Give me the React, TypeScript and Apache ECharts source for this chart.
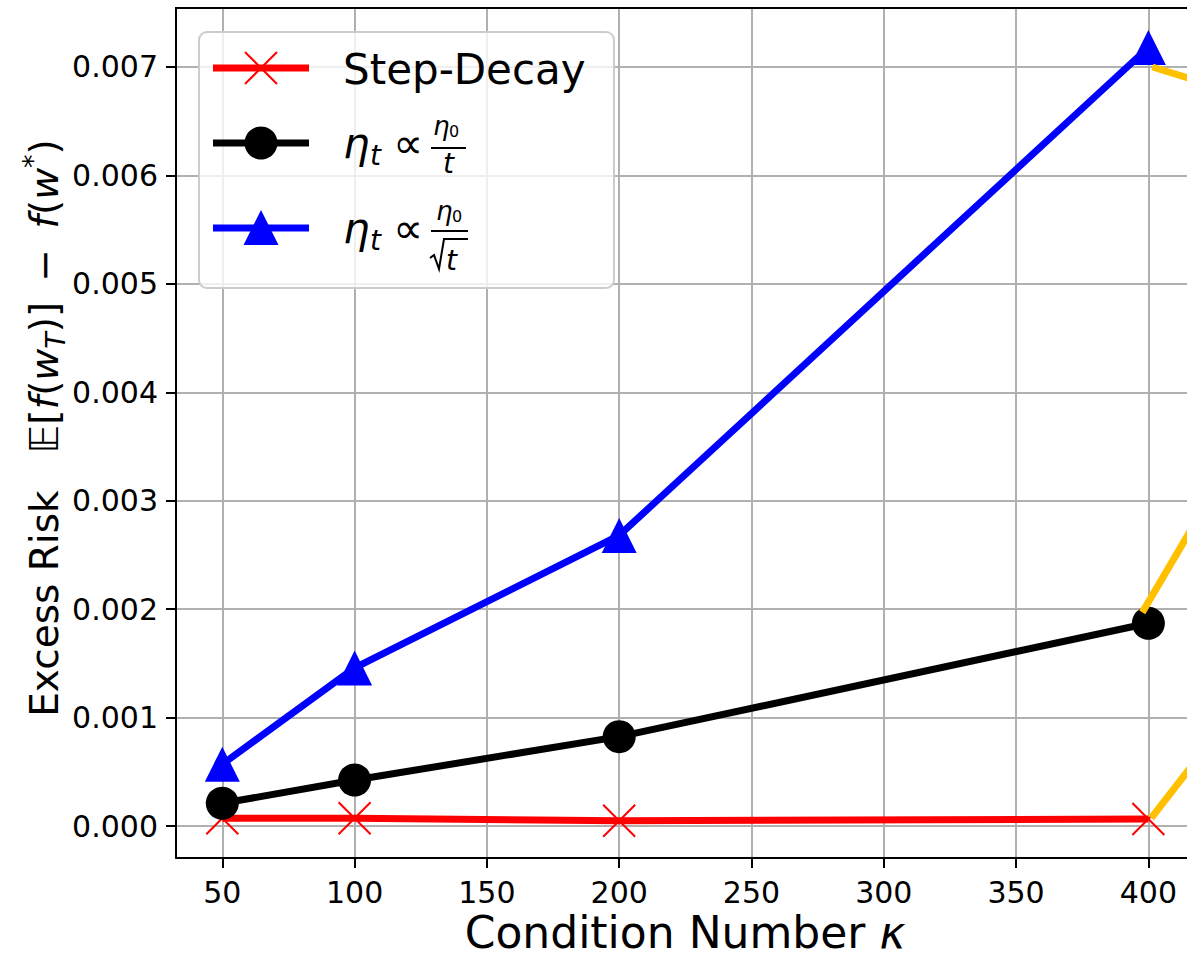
import React, { useEffect, useRef } from "react";
import * as echarts from "echarts";

const kappa = [50, 100, 200, 400];
const stepDecay = [0.000071, 0.000071, 0.000049, 0.000065];
const etaOverT = [0.00021, 0.000424, 0.000824, 0.00187];
const etaOverSqrtT = [0.00057, 0.001458, 0.00268, 0.00718];
const orangeA = [[401.5, 0.0070], [417.5, 0.00688]];
const orangeB = [[397.7, 0.00197], [417.5, 0.00279]];
const orangeC = [[401.1, 0.000074], [417.5, 0.00059]];
const xTicks = [50, 100, 150, 200, 250, 300, 350, 400];
const yTicks = [0, 0.001, 0.002, 0.003, 0.004, 0.005, 0.006, 0.007];

const FONT = "DejaVu Sans";

function T(x: number, base: number, text: string, size: number, italic = false) {
  return {
    type: "text",
    x,
    y: base - 0.346 * size,
    z: 102,
    style: {
      text,
      fontSize: size,
      fontFamily: FONT,
      fontStyle: italic ? "italic" : "normal",
      fill: "#000",
      align: "left",
      verticalAlign: "middle",
    },
  };
}

function L(x1: number, y1: number, x2: number, y2: number, color: string, w: number) {
  return {
    type: "line",
    z: 101,
    shape: { x1, y1, x2, y2 },
    style: { stroke: color, lineWidth: w },
  };
}

export default function App() {
  const ref = useRef<HTMLDivElement>(null);
  useEffect(() => {
    document.body.style.margin = "0";
    const chart = echarts.init(ref.current!, null, { renderer: "svg" });
    const axisCommon = {
      axisLine: { show: true, onZero: false, lineStyle: { color: "#000", width: 2 } },
      splitLine: { show: true, lineStyle: { color: "#b0b0b0", width: 2 } },
    };
    const lineData = (ys: number[]) => kappa.map((k, i) => [k, ys[i]]);
    const orange = (d: number[][]) => ({
      type: "line",
      data: d,
      symbol: "none",
      lineStyle: { color: "#ffc000", width: 7, cap: "butt" },
      itemStyle: { color: "#ffc000" },
      z: 5,
      emphasis: { disabled: true },
      silent: true,
    });
    const option: any = {
      animation: false,
      backgroundColor: "#fff",
      grid: {
        left: 176,
        top: 8,
        right: 0,
        height: 850,
        show: false,
      },
      xAxis: {
        type: "value",
        min: 32.5,
        max: 414.6,
        ...axisCommon,
        axisTick: { show: true, customValues: xTicks, length: 10, lineStyle: { color: "#000", width: 2 } },
        axisLabel: {
          customValues: xTicks,
          fontSize: 30,
          lineHeight: 30,
          color: "#000",
          margin: 19,
          fontFamily: FONT,
        },
      },
      yAxis: {
        type: "value",
        min: -0.000295,
        max: 0.007544,
        ...axisCommon,
        axisTick: { show: true, customValues: yTicks, length: 10, lineStyle: { color: "#000", width: 2 } },
        axisLabel: {
          customValues: yTicks,
          fontSize: 30,
          color: "#000",
          margin: 18,
          fontFamily: FONT,
          formatter: (v: number) => v.toFixed(3),
        },
      },
      series: [
        {
          type: "line",
          data: lineData(stepDecay),
          symbol: "path://M0,0L10,10M10,0L0,10",
          symbolSize: 32,
          lineStyle: { color: "#ff0000", width: 7 },
          itemStyle: { color: "#ff0000", borderColor: "#ff0000", borderWidth: 2 },
          z: 2,
          emphasis: { disabled: true },
        },
        {
          type: "line",
          data: lineData(etaOverT),
          symbol: "circle",
          symbolSize: 33,
          lineStyle: { color: "#000", width: 7 },
          itemStyle: { color: "#000", borderWidth: 0 },
          z: 3,
          emphasis: { disabled: true },
        },
        {
          type: "line",
          data: lineData(etaOverSqrtT),
          symbol: "triangle",
          symbolSize: 35,
          lineStyle: { color: "#0000ff", width: 7 },
          itemStyle: { color: "#0000ff", borderWidth: 0 },
          z: 4,
          emphasis: { disabled: true },
        },
        orange(orangeA),
        orange(orangeB),
        orange(orangeC),
      ],
      graphic: [
        // top spine
        L(175, 8, 1187, 8, "#000", 2),
        {
          type: "rect",
          z: 100,
          shape: { x: 199, y: 32, width: 415, height: 256, r: 8 },
          style: { fill: "rgba(255,255,255,0.8)", stroke: "#cccccc", lineWidth: 2 },
        },
        // row 1
        L(213, 68, 309, 68, "#ff0000", 7),
        L(245, 52, 277, 84, "#ff0000", 2),
        L(277, 52, 245, 84, "#ff0000", 2),
        T(343, 84, "Step-Decay", 42),
        // row 2
        L(213, 143, 309, 143, "#000", 7),
        { type: "circle", z: 101, shape: { cx: 261, cy: 143, r: 16.5 }, style: { fill: "#000" } },
        T(343, 158, "η", 42, true),
        T(370, 165, "t", 28, true),
        T(393, 158, "∝", 42),
        T(433, 135, "η", 26, true),
        T(449, 137, "0", 16),
        L(431, 148, 466, 148, "#000", 2),
        T(443, 173, "t", 28, true),
        // row 3
        L(213, 228, 309, 228, "#0000ff", 7),
        {
          type: "polygon",
          z: 101,
          shape: { points: [[261, 210], [243.5, 245], [278.5, 245]] },
          style: { fill: "#0000ff" },
        },
        T(343, 243, "η", 42, true),
        T(370, 250, "t", 28, true),
        T(393, 243, "∝", 42),
        T(436, 220, "η", 26, true),
        T(452, 222, "0", 16),
        L(431, 231, 468, 231, "#000", 2),
        {
          type: "polyline",
          z: 101,
          shape: { points: [[430, 258], [434, 255], [439, 269], [444, 239], [468, 239]] },
          style: { stroke: "#000", lineWidth: 2, fill: null },
        },
        T(446, 270, "t", 28, true),
        // y-axis title
        {
          type: "text",
          x: 44,
          y: 428,
          rotation: Math.PI / 2,
          z: 102,
          style: {
            text:
              "{a|Excess Risk   }{b|𝔼}{a|[}{i|f}{a|(}{i|w}{s|T}{a|)] \u2009−\u2009 }{i|f}{a|(}{i|w}{p|*}{a|)}",
            align: "center",
            verticalAlign: "middle",
            fill: "#000",
            rich: {
              a: { fontSize: 39, fontFamily: FONT, lineHeight: 50, verticalAlign: "middle" },
              b: { fontSize: 39, fontFamily: FONT, lineHeight: 50, verticalAlign: "middle" },
              i: { fontSize: 39, fontFamily: FONT, fontStyle: "italic", lineHeight: 50, verticalAlign: "middle" },
              s: { fontSize: 27, fontFamily: FONT, fontStyle: "italic", lineHeight: 27, verticalAlign: "bottom" },
              p: { fontSize: 27, fontFamily: FONT, lineHeight: 27, verticalAlign: "top" },
            },
          },
        },
        // x-axis title
        {
          type: "text",
          x: 685,
          y: 932,
          z: 102,
          style: {
            text: "{a|Condition Number }{i|κ}",
            align: "center",
            verticalAlign: "middle",
            fill: "#000",
            rich: {
              a: { fontSize: 44, fontFamily: FONT, lineHeight: 44 },
              i: { fontSize: 44, fontFamily: FONT, fontStyle: "italic", lineHeight: 44 },
            },
          },
        },
      ],
    };
    chart.setOption(option);
    return () => chart.dispose();
  }, []);
  return <div ref={ref} style={{ width: 1187, height: 957 }} />;
}
